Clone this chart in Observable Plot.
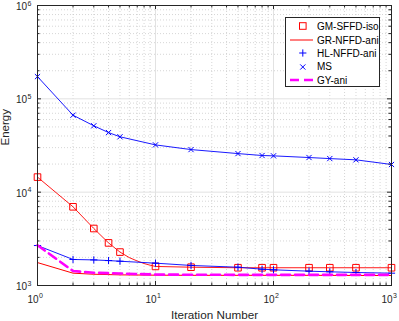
<!DOCTYPE html>
<html><head><meta charset="utf-8">
<script src="https://cdn.jsdelivr.net/npm/d3@7"></script>
<script src="https://cdn.jsdelivr.net/npm/@observablehq/plot@0.6"></script>
<style>
body{margin:0;background:#fff;font-family:"Liberation Sans",Arial,Helvetica,sans-serif;}
#wrap{position:relative;width:399px;height:321px;}
#legend{position:absolute;left:285px;top:17px;width:95px;height:70px;border:1px solid #262626;background:#fff;box-sizing:border-box;font-size:10px;color:#000;}
.row{position:absolute;left:0;height:14px;display:flex;align-items:center;white-space:nowrap;}
.row svg{display:block;margin-left:3px;margin-right:3px;}
</style></head><body><div id="wrap"></div>
<script>
// ---- data ----
const markerIters = [1,2,3,4,5,10,20,50,80,100,200,300,500,1000];
const gmIters  = [1,2,3,4,5,6,7,8,9,10,20,50,80,100,200,300,500,1000];
const gmLine   = [14500,6970,4080,2860,2280,1990,1830,1720,1650,1600,1570,1550,1550,1550,1550,1550,1550,1550];
const gmMarks  = [14500,6970,4080,2860,2280,1600,1570,1550,1550,1550,1550,1550,1550,1550];
const grIters  = [1,2,3,5,10,20,50,100,200,500,1000];
const grValues = [1760,1355,1320,1300,1290,1285,1285,1285,1285,1280,1280];
const hlValues = [2680,1900,1880,1850,1820,1735,1640,1570,1495,1473,1424,1402,1378,1355];
const msValues = [173000,66800,51400,43500,39200,32100,28600,25900,24700,24500,23500,22900,22200,19800];
const gyIters  = [1,2,3,5,10,20,50,100,200,500,1000];
const gyValues = [2700,1430,1370,1345,1310,1305,1300,1300,1300,1300,1300];
const xMajor = [1,10,100,1000];
const xExp   = ["0","1","2","3"];
const yMajor = [1e3,1e4,1e5,1e6];
const yExp   = ["3","4","5","6"];
const seriesNames = ["GM-SFFD-iso","GR-NFFD-ani","HL-NFFD-ani","MS","GY-ani"];
const xLabel = "Iteration Number";
const yLabel = "Energy";

// ---- layout / style ----
const W = 399, H = 321, mL = 37, mR = 8, mT = 5, mB = 36;
const plotH = H - mT - mB, plotW = W - mL - mR;
const RED = "#ff0000", BLUE = "#0000ff", MAG = "#ff00ff", AX = "#262626";
const xMinor = d3.scaleLog().domain([1,1000]).ticks().filter(v => !xMajor.includes(v));
const yMinor = d3.scaleLog().domain([1e3,1e6]).ticks().filter(v => !yMajor.includes(v));
const majT = 4, minT = 2.5;
const plusSym  = {draw(c){ c.moveTo(-3.6,0); c.lineTo(3.6,0); c.moveTo(0,-3.6); c.lineTo(0,3.6); }};
const timesSym = {draw(c){ c.moveTo(-2.6,-2.6); c.lineTo(2.6,2.6); c.moveTo(-2.6,2.6); c.lineTo(2.6,-2.6); }};
const squareSym = {draw(c){ c.rect(-3.3,-3.3,6.6,6.6); }};

const chart = Plot.plot({
  width: W, height: H, marginLeft: mL, marginRight: mR, marginTop: mT, marginBottom: mB,
  x: {type: "log", domain: [1,1000], axis: null},
  y: {type: "log", domain: [1e3,1e6], axis: null},
  style: {fontFamily: '"Liberation Sans",Arial,Helvetica,sans-serif', fontSize: "10px", background: "white", color: "#262626"},
  marks: [
    Plot.ruleX(xMinor, {stroke: "#c4c4c4", strokeDasharray: "1,2", strokeWidth: 0.7}),
    Plot.ruleY(yMinor, {stroke: "#c4c4c4", strokeDasharray: "1,2", strokeWidth: 0.7}),
    Plot.ruleX(xMajor.slice(1,-1), {stroke: "#e2e2e2", strokeWidth: 1}),
    Plot.ruleY(yMajor.slice(1,-1), {stroke: "#e2e2e2", strokeWidth: 1}),
    // series
    Plot.line(grIters, {x: grIters, y: grValues, stroke: RED, strokeWidth: 1}),
    Plot.line(gmIters, {x: gmIters, y: gmLine, stroke: RED, strokeWidth: 0.9}),
    Plot.dot(markerIters, {x: markerIters, y: gmMarks, symbol: squareSym, stroke: RED, strokeWidth: 1, fill: "none"}),
    Plot.line(markerIters, {x: markerIters, y: hlValues, stroke: BLUE, strokeWidth: 0.9}),
    Plot.dot(markerIters, {x: markerIters, y: hlValues, symbol: plusSym, stroke: BLUE, strokeWidth: 1}),
    Plot.line(markerIters, {x: markerIters, y: msValues, stroke: BLUE, strokeWidth: 0.9}),
    Plot.dot(markerIters, {x: markerIters, y: msValues, symbol: timesSym, stroke: BLUE, strokeWidth: 1}),
    Plot.line(gyIters, {x: gyIters, y: gyValues, stroke: MAG, strokeWidth: 2.6, strokeDasharray: "9,5"}),
    // inward ticks on all four sides
    Plot.tickX(xMajor, {stroke: AX, insetTop: plotH - majT}),
    Plot.tickX(xMajor, {stroke: AX, insetBottom: plotH - majT}),
    Plot.tickX(xMinor, {stroke: AX, insetTop: plotH - minT}),
    Plot.tickX(xMinor, {stroke: AX, insetBottom: plotH - minT}),
    Plot.tickY(yMajor, {stroke: AX, insetRight: plotW - majT}),
    Plot.tickY(yMajor, {stroke: AX, insetLeft: plotW - majT}),
    Plot.tickY(yMinor, {stroke: AX, insetRight: plotW - minT}),
    Plot.tickY(yMinor, {stroke: AX, insetLeft: plotW - minT}),
    Plot.frame({stroke: AX, strokeWidth: 1}),
    // tick labels 10^k
    Plot.text(xMajor, {x: xMajor, frameAnchor: "bottom", text: () => "10", textAnchor: "end", lineAnchor: "bottom", dx: 1, dy: 17.7, fontSize: 10, fill: AX}),
    Plot.text(xMajor, {x: xMajor, frameAnchor: "bottom", text: xExp, textAnchor: "start", lineAnchor: "bottom", dx: 1.5, dy: 12.7, fontSize: 7, fill: AX}),
    Plot.text(yMajor, {y: yMajor, frameAnchor: "left", text: () => "10", textAnchor: "end", lineAnchor: "bottom", dx: -10.5, dy: 4.5, fontSize: 10, fill: AX}),
    Plot.text(yMajor, {y: yMajor, frameAnchor: "left", text: yExp, textAnchor: "end", lineAnchor: "bottom", dx: -6, dy: 0, fontSize: 7, fill: AX}),
    // axis titles
    Plot.text([xLabel], {frameAnchor: "bottom", lineAnchor: "bottom", dy: 33, fontSize: 11.7, fill: AX}),
    Plot.text([yLabel], {frameAnchor: "left", rotate: -90, lineAnchor: "bottom", dx: -29, fontSize: 11.5, fill: AX})
  ]
});
const wrap = document.getElementById("wrap");
wrap.appendChild(chart);

// ---- legend ----
const legendSym = [
  `<rect x="10.5" y="3.7" width="6.6" height="6.6" fill="none" stroke="${RED}" stroke-width="1"/>`,
  `<line x1="1" y1="7" x2="24" y2="7" stroke="${RED}" stroke-width="1"/>`,
  `<path d="M10.2,7H17.4M13.8,3.4V10.6" stroke="${BLUE}" stroke-width="1"/>`,
  `<path d="M11.2,4.4L16.4,9.6M11.2,9.6L16.4,4.4" stroke="${BLUE}" stroke-width="1"/>`,
  `<line x1="1" y1="7" x2="25" y2="7" stroke="${MAG}" stroke-width="2.6" stroke-dasharray="9,5"/>`
];
const rowTop = [1, 15, 28.3, 41.7, 55.3];
const legend = document.createElement("div");
legend.id = "legend";
legend.innerHTML = seriesNames.map((n, i) =>
  `<div class="row" style="top:${rowTop[i]}px"><svg width="25" height="14">${legendSym[i]}</svg><span>${n}</span></div>`).join("");
wrap.appendChild(legend);
</script>
</body></html>
